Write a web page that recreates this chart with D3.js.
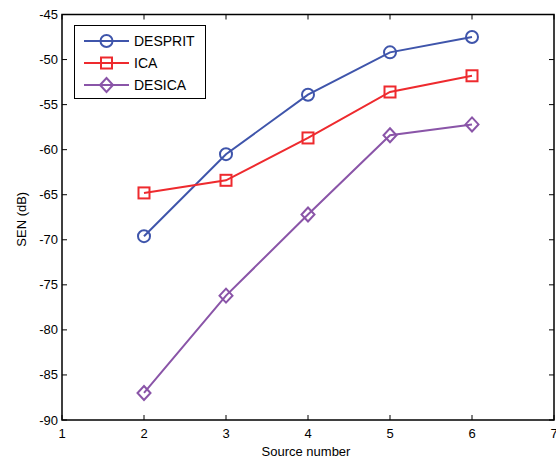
<!DOCTYPE html>
<html><head><meta charset="utf-8">
<script src="https://cdn.jsdelivr.net/npm/d3@7"></script>
<style>body{margin:0;background:#fff}svg text{font-family:"Liberation Sans",Arial,sans-serif}</style>
</head><body><svg id="c" width="556" height="460"></svg>
<script>
const sourceNumbers = [2, 3, 4, 5, 6];
const despritSEN = [-69.6, -60.5, -53.9, -49.2, -47.5];
const icaSEN = [-64.8, -63.4, -58.7, -53.6, -51.8];
const desicaSEN = [-87.0, -76.2, -67.2, -58.4, -57.2];
const xTicks = [1, 2, 3, 4, 5, 6, 7];
const yTicks = [-90, -85, -80, -75, -70, -65, -60, -55, -50, -45];
const seriesNames = ["DESPRIT", "ICA", "DESICA"];
const seriesColors = ["#3f55ab", "#ee2a2e", "#8a55a8"];
const seriesMarkers = ["circle", "square", "diamond"];

const svg = d3.select("#c");
const L = 62, R = 554, T = 14.5, B = 420;
const x = d3.scaleLinear().domain([1, 7]).range([L, R]);
const y = d3.scaleLinear().domain([-90, -45]).range([B, T]);

// ticks inward on all sides
const tl = 5;
const g = svg.append("g").attr("stroke", "#000").attr("stroke-width", 1);
xTicks.forEach(v => {
  g.append("line").attr("x1", x(v)).attr("x2", x(v)).attr("y1", B).attr("y2", B - tl);
  g.append("line").attr("x1", x(v)).attr("x2", x(v)).attr("y1", T).attr("y2", T + tl);
});
yTicks.forEach(v => {
  g.append("line").attr("x1", L).attr("x2", L + tl).attr("y1", y(v)).attr("y2", y(v));
  g.append("line").attr("x1", R).attr("x2", R - tl).attr("y1", y(v)).attr("y2", y(v));
});
svg.append("rect").attr("x", L).attr("y", T).attr("width", R - L).attr("height", B - T)
  .attr("fill", "none").attr("stroke", "#000").attr("stroke-width", 1.5);

xTicks.forEach(v => svg.append("text").attr("x", x(v)).attr("y", B + 18)
  .attr("text-anchor", "middle").attr("font-size", 13).text(v));
yTicks.forEach(v => svg.append("text").attr("x", L - 4).attr("y", y(v) + 4.5)
  .attr("text-anchor", "end").attr("font-size", 13).text(v));

svg.append("text").attr("x", (L + R) / 2 - 2).attr("y", 456).attr("text-anchor", "middle")
  .attr("font-size", 13).text("Source number");
svg.append("text").attr("transform", `translate(26,${(T + B) / 2 + 2}) rotate(-90)`)
  .attr("text-anchor", "middle").attr("font-size", 13).text("SEN (dB)");

function marker(sel, type, cx, cy, color) {
  if (type === "circle") sel.append("circle").attr("cx", cx).attr("cy", cy).attr("r", 6)
    .attr("fill", "none").attr("stroke", color).attr("stroke-width", 2);
  else if (type === "square") sel.append("rect").attr("x", cx - 5.5).attr("y", cy - 5.5)
    .attr("width", 11).attr("height", 11).attr("fill", "none").attr("stroke", color).attr("stroke-width", 2);
  else sel.append("path").attr("d", `M${cx},${cy - 7}L${cx + 6.5},${cy}L${cx},${cy + 7}L${cx - 6.5},${cy}Z`)
    .attr("fill", "none").attr("stroke", color).attr("stroke-width", 2);
}

const allSeries = [despritSEN, icaSEN, desicaSEN];
const line = d3.line().x((d, i) => x(sourceNumbers[i])).y(d => y(d));
allSeries.forEach((vals, k) => {
  const sg = svg.append("g");
  sg.append("path").datum(vals).attr("d", line).attr("fill", "none")
    .attr("stroke", seriesColors[k]).attr("stroke-width", 2);
  vals.forEach((v, i) => marker(sg, seriesMarkers[k], x(sourceNumbers[i]), y(v), seriesColors[k]));
});

// legend
const lg = svg.append("g");
lg.append("rect").attr("x", 74.5).attr("y", 25.5).attr("width", 131).attr("height", 73)
  .attr("fill", "#fff").attr("stroke", "#000").attr("stroke-width", 1);
seriesNames.forEach((n, k) => {
  const yy = 41 + k * 22;
  lg.append("line").attr("x1", 84).attr("x2", 129).attr("y1", yy).attr("y2", yy)
    .attr("stroke", seriesColors[k]).attr("stroke-width", 2);
  marker(lg, seriesMarkers[k], 106.5, yy, seriesColors[k]);
  lg.append("text").attr("x", 134).attr("y", yy + 5).attr("font-size", 14).text(n);
});
</script></body></html>
